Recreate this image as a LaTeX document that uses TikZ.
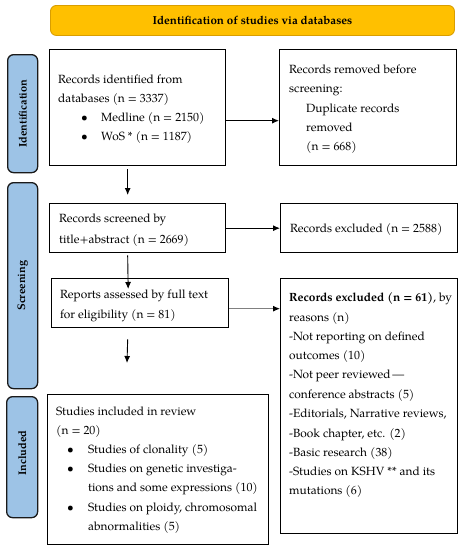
\documentclass[tikz,border=0pt]{standalone}
\usepackage{fontspec}
\setmainfont{texgyrepagella}[Extension=.otf,UprightFont=*-regular,BoldFont=*-bold,ItalicFont=*-italic,BoldItalicFont=*-bolditalic]
\usetikzlibrary{arrows.meta}
\definecolor{hdrfill}{HTML}{FFC000}
\definecolor{hdrline}{HTML}{D99E00}
\definecolor{barfill}{HTML}{9DC3E6}
\definecolor{barline}{HTML}{1A1A1A}
\tikzset{
  box/.style={draw=black,line width=1.35pt,rectangle,inner sep=0pt,anchor=north west},
  bar/.style={draw=barline,fill=barfill,line width=1.3pt,rounded corners=6pt,rectangle,inner sep=0pt,anchor=north west},
  hdr/.style={draw=hdrline,fill=hdrfill,line width=0.9pt,rounded corners=6pt,rectangle,inner sep=0pt,anchor=north west},
  ln/.style={anchor=base west,inner sep=0pt,font=\fontsize{11.9}{14}\selectfont},
  bartext/.style={rotate=90,inner sep=0pt,font=\fontsize{11}{13}\selectfont\bfseries},
  arr/.style={line width=0.9pt,-{Latex[length=7pt,width=6pt]}},
}
\begin{document}
\begin{tikzpicture}[x=1pt,y=-1pt]
\useasboundingbox (0,0) rectangle (461,550);
% header
\node[hdr,minimum width=404pt,minimum height=30pt] (hdr) at (50,5) {};
\node[inner sep=0pt,font=\fontsize{11.6}{13}\selectfont\bfseries] (hdrt) at (hdr.center) {Identification of studies via databases};
% side bars
\node[bar,minimum width=30pt,minimum height=118pt] (bar1) at (7,54) {};
\node[bartext] (bar1t) at (bar1.center) {Identification};
\node[bar,minimum width=30pt,minimum height=206pt] (bar2) at (7,182) {};
\node[bartext] (bar2t) at (bar2.center) {Screening};
\node[bar,minimum width=31pt,minimum height=121pt] (bar3) at (6,396) {};
\node[bartext] (bar3t) at ([yshift=4pt]bar3.center) {Included};
% boxes
\node[box,minimum width=176pt,minimum height=116pt] (b1) at (49,49) {};
\node[box,minimum width=177pt,minimum height=116pt] (b2) at (279,49) {};
\node[box,minimum width=176pt,minimum height=49pt] (b3) at (49,203) {};
\node[box,minimum width=177pt,minimum height=49pt] (b4) at (280,203) {};
\node[box,minimum width=177pt,minimum height=49pt] (b5) at (51,278) {};
\node[box,minimum width=177pt,minimum height=255pt] (b6) at (280,278) {};
\node[box,minimum width=221pt,minimum height=150pt] (b7) at (47,394) {};
% box 1 text
\node[ln] (t1a) at (58,83) {Records identified from};
\node[ln] (t1b) at (58,102) {databases (n = 3337)};
\node[ln] (t1c) at (81,121) {\textbullet};
\node[ln] (t1d) at (101,121) {Medline (n = 2150)};
\node[ln] (t1e) at (81,140) {\textbullet};
\node[ln] (t1f) at (101,140) {WoS * (n = 1187)};
% box 2 text
\node[ln] (t2a) at (289,73) {Records removed before};
\node[ln] (t2b) at (289,92) {screening:};
\node[ln] (t2c) at (306,112) {Duplicate records};
\node[ln] (t2d) at (306,131) {removed};
\node[ln] (t2e) at (306,150) {(n = 668)};
% box 3 text
\node[ln] (t3a) at (59,222) {Records screened by};
\node[ln] (t3b) at (59,243) {title+abstract (n = 2669)};
% box 4 text
\node[ln] (t4a) at (290,232) {Records excluded (n = 2588)};
% box 5 text
\node[ln] (t5a) at (60,298) {Reports assessed by full text};
\node[ln] (t5b) at (60,318) {for eligibility (n = 81)};
% box 6 text
\node[ln] (t6a) at (289,301) {\textbf{Records excluded (n = 61)}, by};
\node[ln] (t6b) at (289,321) {reasons (n)};
\node[ln] (t6c) at (289,340) {-Not reporting on defined};
\node[ln] (t6d) at (289,359) {outcomes (10)};
\node[ln] (t6e) at (289,378) {-Not peer reviewed\,---};
\node[ln] (t6f) at (289,398) {conference abstracts (5)};
\node[ln] (t6g) at (289,417) {-Editorials, Narrative reviews,};
\node[ln] (t6h) at (289,437) {-Book chapter, etc. (2)};
\node[ln] (t6i) at (289,456) {-Basic research (38)};
\node[ln] (t6j) at (289,475) {-Studies on KSHV ** and its};
\node[ln] (t6k) at (289,494) {mutations (6)};
% box 7 text
\node[ln] (t7a) at (56,415) {Studies included in review};
\node[ln] (t7b) at (56,434) {(n = 20)};
\node[ln] (t7c) at (67,453) {\textbullet};
\node[ln] (t7d) at (88,453) {Studies of clonality (5)};
\node[ln] (t7e) at (67,472) {\textbullet};
\node[ln] (t7f) at (88,472) {Studies on genetic investiga-};
\node[ln] (t7g) at (88,491) {tions and some expressions (10)};
\node[ln] (t7h) at (67,511) {\textbullet};
\node[ln] (t7i) at (88,511) {Studies on ploidy, chromosomal};
\node[ln] (t7j) at (88,530) {abnormalities (5)};
% connectors
\draw[arr] ([yshift=-13pt]b1.east) -- ([yshift=-13pt]b2.west);
\draw[arr] (b3.east) -- (b4.west);
\coordinate (a5) at ([yshift=-5.5pt]b5.east);
\draw[line width=0.9pt,draw=gray,-{Latex[length=7pt,width=6pt,black]}] (a5) -- (a5 -| b6.west);
\draw[arr] ([xshift=-10pt,yshift=-3pt]b1.south) -- ([xshift=-10pt,yshift=8pt]b3.north);
\draw[arr] ([xshift=-10pt,yshift=-2pt]b3.south) -- ([xshift=-12pt,yshift=-11pt]b5.north);
\coordinate (end5) at (127,363);
\draw[arr] ([xshift=-12.5pt,yshift=-11pt]b5.south) -- (end5);
\end{tikzpicture}
\end{document}
